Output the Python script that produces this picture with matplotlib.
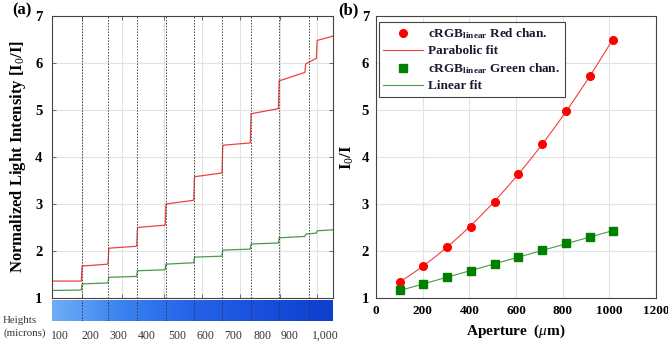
import numpy as np
import matplotlib
matplotlib.use("Agg")
import matplotlib.pyplot as plt
from matplotlib.colors import LinearSegmentedColormap
from matplotlib.lines import Line2D

plt.rcParams['font.family'] = ['Liberation Serif', 'DejaVu Serif']
plt.rcParams['mathtext.fontset'] = 'custom'
plt.rcParams['mathtext.rm'] = 'Liberation Serif'
plt.rcParams['mathtext.it'] = 'Liberation Serif:italic'
plt.rcParams['mathtext.bf'] = 'Liberation Serif:bold'

# ---------------- data: panel (a) step trace ----------------
# segment boundaries (sample index) and start/end levels of each plateau
seg_x = [0, 150, 285, 430, 574, 718, 861, 1004, 1146, 1280, 1338, 1420]
red_start = [1.36, 1.68, 2.06, 2.50, 3.00, 3.58, 4.25, 4.92, 5.62, 5.98, 6.48]
red_end = [1.36, 1.72, 2.10, 2.55, 3.08, 3.66, 4.30, 5.03, 5.80, 6.10, 6.57]
green_start = [1.16, 1.30, 1.44, 1.58, 1.72, 1.87, 2.02, 2.15, 2.28, 2.36, 2.43]
green_end = [1.17, 1.32, 1.46, 1.60, 1.75, 1.89, 2.04, 2.17, 2.31, 2.38, 2.45]
boundaries = [150, 285, 430, 574, 718, 861, 1004, 1146, 1297]
grid_x = [150, 355, 565, 757, 950, 1150, 1340]
height_labels = ['100', '200', '300', '400', '500', '600', '700', '800', '900', '1,000']
height_label_x = [42, 192, 333, 480, 633, 774, 915, 1066, 1203, 1380]

# ---------------- data: panel (b) ----------------
aperture = [102, 203, 305, 407, 508, 610, 712, 813, 915, 1017]
red_vals = [1.35, 1.69, 2.09, 2.52, 3.05, 3.63, 4.28, 4.98, 5.72, 6.50]
green_vals = [1.16, 1.30, 1.44, 1.58, 1.73, 1.87, 2.02, 2.16, 2.29, 2.43]

W, H = 668, 346
fig = plt.figure(figsize=(W / 100, H / 100), dpi=100)


def box(l, r, t, b):
    return [l / W, (H - b) / H, (r - l) / W, (b - t) / H]


tick_font = dict(fontsize=10.5, fontweight='bold')
red_c = '#f04040'
green_c = '#4a9a4a'

# ---------------- panel (a) ----------------
axa = fig.add_axes(box(52, 333, 16, 298))


def build(starts, ends):
    xs, ys = [], []
    for i in range(len(starts)):
        x0, x1 = seg_x[i], seg_x[i + 1]
        xs += [x0 + 2, x1 - 2]
        ys += [starts[i], ends[i]]
    return xs, ys


rx, ry = build(red_start, red_end)
gx, gy = build(green_start, green_end)
axa.plot(rx, ry, color=red_c, lw=0.9)
axa.plot(gx, gy, color=green_c, lw=0.9)
for b in boundaries:
    axa.axvline(b, color='#444444', ls=(0, (1.5, 1.5)), lw=0.7, zorder=3)
axa.set_xlim(seg_x[0], seg_x[-1])
axa.set_ylim(1, 7)
axa.set_xticks(grid_x)
axa.set_xticklabels([])
axa.set_yticks(range(1, 8))
axa.set_yticklabels([str(v) for v in range(1, 8)], **tick_font)
axa.grid(True, color='#e2e2e2', lw=0.8)
axa.set_axisbelow(True)
axa.tick_params(direction='in', length=3, width=0.6, color='#555555', top=True, right=True, pad=7)
for s in axa.spines.values():
    s.set_color('#444444')
    s.set_linewidth(0.8)
axa.set_ylabel('Normalized Light Intensity [I$_0$/I]', fontsize=12, fontweight='bold', labelpad=5)
fig.text(12 / W, (H - 10) / H, '(a)', fontsize=12, fontweight='bold', va='center')

# color bar of heights
axc = fig.add_axes(box(52, 333, 300, 321))
cmap = LinearSegmentedColormap.from_list('h', ['#6eaef6', '#3a82ee', '#2462e8', '#184fdc', '#0e3ecc'])
grad = np.linspace(0, 1, 256).reshape(1, -1)
axc.imshow(grad, aspect='auto', cmap=cmap, extent=[seg_x[0], seg_x[-1], 0, 1])
for b in boundaries:
    axc.axvline(b, color='#333355', ls=(0, (1.5, 1.5)), lw=0.7)
axc.set_xlim(seg_x[0], seg_x[-1])
axc.set_ylim(0, 1)
axc.axis('off')
for lx, lab in zip(height_label_x, height_labels):
    axc.text(lx, -0.7, lab, fontsize=8.5, ha='center', va='center', color='#333333')
fig.text(3 / W, (H - 327) / H, 'Heights\n(microns)', fontsize=7.8, ha='left', va='center',
         color='#333333', linespacing=1.35)

# ---------------- panel (b) ----------------
axb = fig.add_axes(box(376, 656, 16, 298))
xs = np.linspace(aperture[0], aperture[-1], 200)
pr = np.polyfit(aperture, red_vals, 2)
pg = np.polyfit(aperture, green_vals, 1)
axb.plot(xs, np.polyval(pr, xs), color=red_c, lw=0.8, zorder=2)
axb.plot(xs, np.polyval(pg, xs), color=green_c, lw=0.8, zorder=2)
axb.plot(aperture, red_vals, 'o', color='#ff0000', ms=5.5, zorder=3)
axb.plot(aperture, green_vals, 's', color='#008000', ms=5.5, zorder=3)
axb.set_xlim(0, 1200)
axb.set_ylim(1, 7)
axb.set_xticks(range(0, 1201, 200))
axb.set_xticklabels([str(v) for v in range(0, 1201, 200)], fontsize=9.5, fontweight='bold')
axb.set_yticks(range(1, 8))
axb.set_yticklabels([str(v) for v in range(1, 8)], **tick_font)
axb.grid(True, color='#e2e2e2', lw=0.8)
axb.set_axisbelow(True)
axb.tick_params(direction='in', length=0, pad=5)
for s in axb.spines.values():
    s.set_color('#444444')
    s.set_linewidth(0.8)
axb.set_xlabel('Aperture  ($\\mu$m)', fontsize=11, fontweight='bold', labelpad=4)
axb.set_ylabel('I$_0$/I', fontsize=12, fontweight='bold', labelpad=4)
fig.text(338 / W, (H - 10) / H, '(b)', fontsize=12, fontweight='bold', va='center')

handles = [
    Line2D([], [], ls='none', marker='o', color='#ff0000', ms=5.5),
    Line2D([], [], color=red_c, lw=0.8),
    Line2D([], [], ls='none', marker='s', color='#008000', ms=5.5),
    Line2D([], [], color=green_c, lw=0.8),
]
labels = ['cRGB$_{\\mathbf{linear}}$ Red chan.', 'Parabolic fit',
          'cRGB$_{\\mathbf{linear}}$ Green chan.', 'Linear fit']
leg = axb.legend(handles, labels, loc='upper left', bbox_to_anchor=(0.01, 0.98),
                 prop=dict(family='Liberation Serif', weight='bold', size=9.5),
                 fancybox=False, edgecolor='#444444', framealpha=1, borderpad=0.35,
                 labelspacing=0.3, handlelength=3.0, handletextpad=0.4, borderaxespad=0)
for t in leg.get_texts():
    t.set_color('#1a1a33')
leg.get_frame().set_linewidth(0.8)

fig.savefig('out.png', dpi=100)
